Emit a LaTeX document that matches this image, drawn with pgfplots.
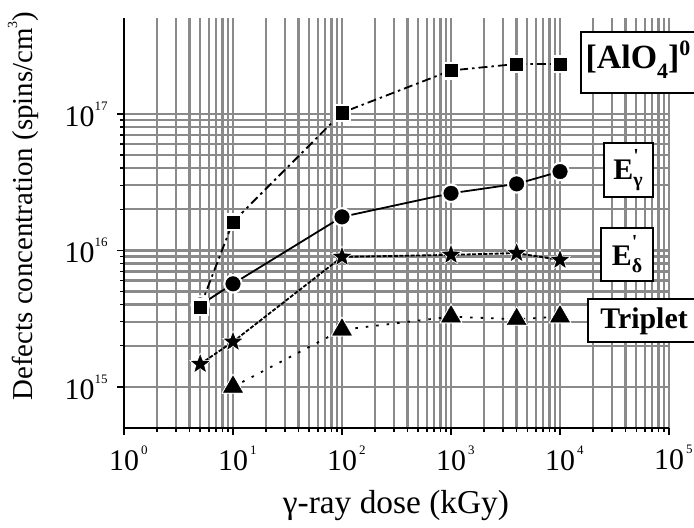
\documentclass[border=0pt]{standalone}
\usepackage{pgfplots}
\pgfplotsset{compat=1.18}
\usepackage{fontspec}
\setmainfont{Liberation Serif}
\definecolor{gridgray}{RGB}{138,138,138}
\newcommand{\tp}[1]{10\raisebox{16bp}{\fontsize{13}{13}\selectfont #1}}
\newcommand{\tx}[1]{10\rlap{\raisebox{16bp}{\fontsize{13}{13}\selectfont\,#1}}}
\pgfdeclareplotmark{fstar}{%
  \pgfpathmoveto{\pgfpointpolar{90}{\pgfplotmarksize}}%
  \pgfpathlineto{\pgfpointpolar{126}{0.42\pgfplotmarksize}}%
  \pgfpathlineto{\pgfpointpolar{162}{\pgfplotmarksize}}%
  \pgfpathlineto{\pgfpointpolar{198}{0.42\pgfplotmarksize}}%
  \pgfpathlineto{\pgfpointpolar{234}{\pgfplotmarksize}}%
  \pgfpathlineto{\pgfpointpolar{270}{0.42\pgfplotmarksize}}%
  \pgfpathlineto{\pgfpointpolar{306}{\pgfplotmarksize}}%
  \pgfpathlineto{\pgfpointpolar{342}{0.42\pgfplotmarksize}}%
  \pgfpathlineto{\pgfpointpolar{18}{\pgfplotmarksize}}%
  \pgfpathlineto{\pgfpointpolar{54}{0.42\pgfplotmarksize}}%
  \pgfpathclose
  \pgfusepathqfillstroke
}
\begin{document}
\begin{tikzpicture}[x=1bp,y=1bp]
\useasboundingbox (0,0) rectangle (694,528);
\begin{axis}[
  at={(124bp,100bp)}, anchor=south west,
  scale only axis, width=545bp, height=409.5bp,
  xmode=log, ymode=log,
  xmin=1, xmax=1e5, ymin=5e14, ymax=5e17,
  axis x line=bottom, axis y line=left,
  axis line style={-, line width=1.8bp, black},
  grid=both,
  major grid style={gridgray, line width=2.4bp},
  minor grid style={gridgray, line width=2.4bp},
  xtick={1,10,100,1000,10000,100000},
  xticklabels={\tx{0},\tx{1},\tx{2},\tx{3},\tx{4},\tx{5}},
  ytick={1e15,1e16,1e17},
  yticklabels={\tp{15},\tp{16},\tp{17}},
  tick style={black, line width=1.4bp},
  major tick length=7bp, minor tick length=4bp,
  tick align=outside,
  ticklabel style={font=\fontsize{30}{30}\selectfont},
  yticklabel style={xshift=-6bp},
  xticklabel style={yshift=-7bp},
  xlabel={γ-ray dose (kGy)},
  ylabel={Defects concentration (spins/cm\raisebox{15bp}{\fontsize{14}{14}\selectfont 3})},
  xlabel style={font=\fontsize{33.5}{33.5}\selectfont, at={(axis description cs:0.499,-0.19)}, anchor=center},
  ylabel style={font=\fontsize{29}{29}\selectfont, at={(axis description cs:-0.185,0.542)}, anchor=center, rotate=0},
]
% Triplet
\addplot[black, line width=1.8bp, dash pattern=on 2.5bp off 8bp, mark=none] coordinates {
 (10,1.0e15) (100,2.62e15) (1000,3.27e15) (4000,3.13e15) (10000,3.27e15)};
\addplot[only marks, mark=triangle*, mark size=13bp, white] coordinates {
 (10,1.0e15) (100,2.62e15) (1000,3.27e15) (4000,3.13e15) (10000,3.27e15)};
\addplot[only marks, mark=triangle*, mark size=11bp, black] coordinates {
 (10,1.0e15) (100,2.62e15) (1000,3.27e15) (4000,3.13e15) (10000,3.27e15)};
% E'delta (stars)
\addplot[black, line width=1.8bp, dash pattern=on 4bp off 1.6bp, mark=none] coordinates {
 (5,1.47e15) (10,2.14e15) (100,8.96e15) (1000,9.27e15) (4000,9.55e15) (10000,8.51e15)};
\addplot[only marks, mark=fstar, mark size=11bp, white] coordinates {
 (5,1.47e15) (10,2.14e15) (100,8.96e15) (1000,9.27e15) (4000,9.55e15) (10000,8.51e15)};
\addplot[only marks, mark=fstar, mark size=9bp, black] coordinates {
 (5,1.47e15) (10,2.14e15) (100,8.96e15) (1000,9.27e15) (4000,9.55e15) (10000,8.51e15)};
% E'gamma (circles)
\addplot[black, line width=1.8bp, solid, mark=none] coordinates {
 (5,3.98e15) (10,5.69e15) (100,1.76e16) (1000,2.62e16) (4000,3.07e16) (10000,3.78e16)};
\addplot[only marks, mark=*, mark size=9.5bp, white] coordinates {
 (5,3.98e15) (10,5.69e15) (100,1.76e16) (1000,2.62e16) (4000,3.07e16) (10000,3.78e16)};
\addplot[only marks, mark=*, mark size=7.3bp, black] coordinates {
 (5,3.98e15) (10,5.69e15) (100,1.76e16) (1000,2.62e16) (4000,3.07e16) (10000,3.78e16)};
% [AlO4]0 (squares)
\addplot[black, line width=1.8bp, dash pattern=on 9bp off 4bp on 2.5bp off 4bp, mark=none] coordinates {
 (5,3.85e15) (10,1.62e16) (100,1.02e17) (1000,2.08e17) (4000,2.32e17) (10000,2.32e17)};
\addplot[only marks, mark=square*, mark size=8.5bp, white] coordinates {
 (5,3.85e15) (10,1.62e16) (100,1.02e17) (1000,2.08e17) (4000,2.32e17) (10000,2.32e17)};
\addplot[only marks, mark=square*, mark size=6bp, black] coordinates {
 (5,3.85e15) (10,1.62e16) (100,1.02e17) (1000,2.08e17) (4000,2.32e17) (10000,2.32e17)};
\end{axis}
% labels in boxes
\draw[line width=1.8bp, fill=white] (581,435) rectangle (712,496);
\node[font=\fontsize{34}{34}\selectfont\bfseries] at (638,468) {[AlO\raisebox{-10bp}{\fontsize{22}{22}\selectfont 4}]\raisebox{13bp}{\fontsize{22}{22}\selectfont 0}};
\draw[line width=1.8bp, fill=white] (604,331) rectangle (653,385);
\node[font=\fontsize{30}{30}\selectfont\bfseries] at (628,358) {E\rlap{\raisebox{17bp}{\fontsize{20}{20}\selectfont\textquotesingle}}\raisebox{-7bp}{\fontsize{20}{20}\selectfont γ}};
\draw[line width=1.8bp, fill=white] (601,247) rectangle (653,300);
\node[font=\fontsize{30}{30}\selectfont\bfseries] at (627,274) {E\rlap{\raisebox{17bp}{\fontsize{20}{20}\selectfont\textquotesingle}}\raisebox{-7bp}{\fontsize{20}{20}\selectfont δ}};
\draw[line width=1.8bp, fill=white] (588,186) rectangle (712,229);
\node[font=\fontsize{30}{30}\selectfont\bfseries] at (644,207) {Triplet};
\end{tikzpicture}
\end{document}
